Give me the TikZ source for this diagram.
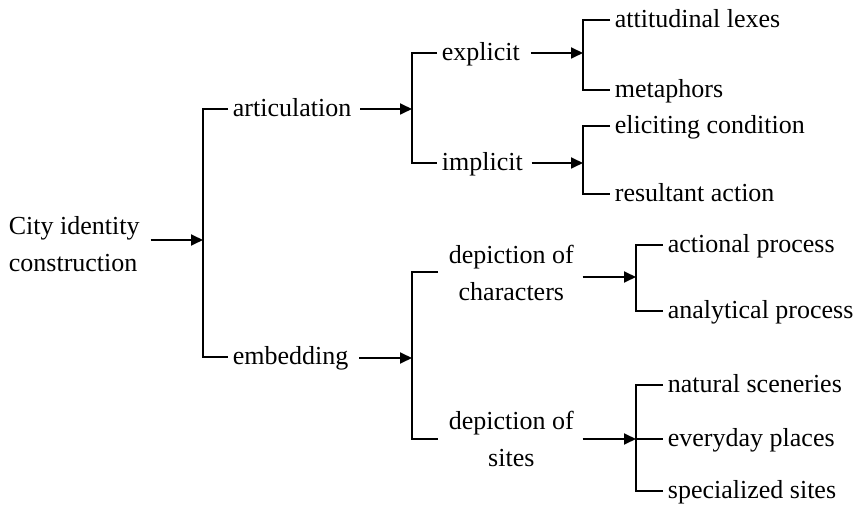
\documentclass[tikz,border=0pt]{standalone}
\usepackage{fontspec}
\setmainfont{Liberation Serif}
\usetikzlibrary{arrows.meta}

\begin{document}
\begin{tikzpicture}[
    x=0.5pt, y=-0.5pt, line width=0.9pt,
    font=\fontsize{13}{18.5}\selectfont,
    item/.style={anchor=west,inner xsep=2pt,inner ysep=1pt,text height=10pt,text depth=2.5pt},
    pair/.style={anchor=west,align=center,inner xsep=3pt,inner ysep=1pt},
    root/.style={anchor=west,align=left,inner xsep=2pt,inner ysep=1pt},
    arr/.style={-{Triangle[length=6pt,width=5.5pt]}}
  ]
    \useasboundingbox (0,0) rectangle (857,507);

    \node[root] (city) at (4,244) {City identity\\construction};
    \coordinate (b0) at (203,240);

    \node[item] (artic) at (228,109) {articulation};
    \node[item] (embed) at (228,357) {embedding};
    \coordinate (b1) at (412,109);
    \coordinate (b2) at (412,358);

    \node[item] (expl) at (437,53) {explicit};
    \node[item] (impl) at (437,163) {implicit};
    \coordinate (b3) at (583,53);
    \coordinate (b4) at (583,163);

    \node[pair] (dchar) at (442,273) {depiction of\\characters};
    \node[pair] (dsite) at (442,439) {depiction of\\sites};
    \coordinate (b5) at (636,277);
    \coordinate (b6) at (636,439);

    \node[item] (attlex) at (610,20) {attitudinal lexes};
    \node[item] (metaph) at (610,90) {metaphors};
    \node[item] (elicit) at (610,126) {eliciting condition};
    \node[item] (result) at (610,194) {resultant action};

    \node[item] (action) at (663,245) {actional process};
    \node[item] (analyt) at (663,311) {analytical process};

    \node[item] (natur) at (663,385) {natural sceneries};
    \node[item] (everyd) at (663,439) {everyday places};
    \node[item] (special) at (663,491) {specialized sites};

    % arrows into the brackets
    \draw[arr] (city.east |- b0) ++(3pt,0) -- (b0);
    \draw[arr] (artic.east) ++(2pt,0) -- (b1);
    \draw[arr] (embed.east |- b2) ++(3pt,0) -- (b2);
    \draw[arr] (expl.east) ++(3pt,0) -- (b3);
    \draw[arr] (impl.east) ++(2pt,0) -- (b4);
    \draw[arr] (dchar.east |- b5) ++(1pt,0) -- (b5);
    \draw[arr] (dsite.east |- b6) ++(1pt,0) -- (b6);

    % brackets
    \draw (artic.west) -| (b0) |- (embed.west);
    \draw (expl.west) -| (b1) |- (impl.west);
    \draw (dchar.west |- 0,272) ++(-2pt,0) -| (b2) |- ([xshift=-2pt]dsite.west);
    \draw (attlex.west) -| (b3) |- (metaph.west);
    \draw (elicit.west) -| (b4) |- (result.west);
    \draw (action.west) -| (b5) |- (analyt.west);
    \draw (natur.west) -| (b6) |- (special.west);
    \draw (b6) -- (everyd.west);
\end{tikzpicture}
\end{document}
